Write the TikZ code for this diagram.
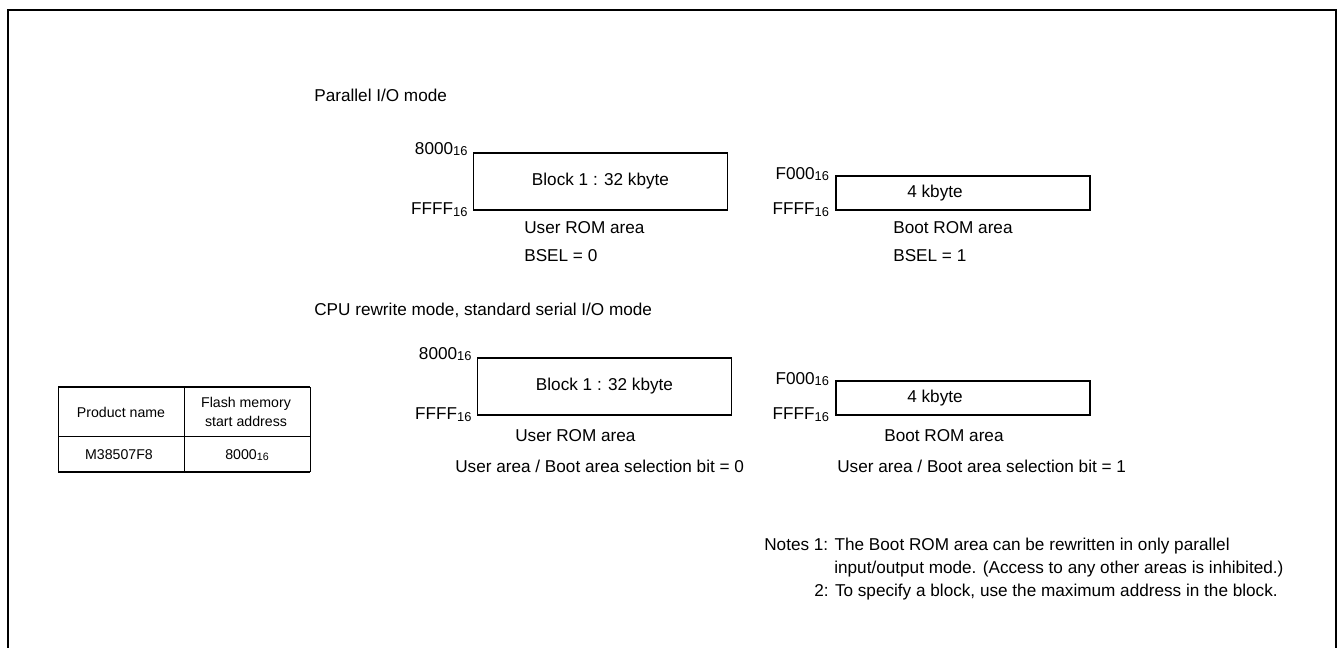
\documentclass[tikz,border=0pt]{standalone}
\usepackage{fontspec}
\setmainfont{Liberation Sans}
\usetikzlibrary{positioning, calc}

\newcommand{\hexaddr}[1]{#1\raisebox{-0.8pt}{\scalebox{0.75}{16}}}

\begin{document}
\begin{tikzpicture}[x=0.6pt, y=-0.6pt]

\tikzset{
txt/.style={
inner sep=0pt,
font=\fontsize{10.3}{12}\selectfont
},
cell/.style={
inner sep=0pt,
align=center,
font=\fontsize{8.5}{11.4}\selectfont
},
mem/.style={
draw,
line width=0.8pt,
inner sep=0pt,
minimum width=152.4pt,
minimum height=#1,
font=\fontsize{10.3}{12}\selectfont
},
addr/.style={
inner sep=0pt,
anchor=east,
font=\fontsize{10.3}{12}\selectfont
}
}

\useasboundingbox (0,0) rectangle (1339,648);
\draw[line width=1.2pt] (8,648) -- (8,10) -- (1336,10) -- (1336,648);

% parallel I/O mode
\node[txt, anchor=west] (par) at (314,95) {Parallel I/O mode};

\node[mem=34.2pt] (user1) at (600.5,181.5) {Block 1 : 32 kbyte};
\node[mem=20.4pt, label={[txt, xshift=-16.8pt]center:4 kbyte}] (boot1) at (963,193) {};

\node[addr] (u1top) at ($(user1.north west)+(-5,-3)$) {\hexaddr{8000}};
\node[addr] (u1bot) at ($(user1.south west)+(-5,-1)$) {\hexaddr{FFFF}};
\node[addr] (b1top) at ($(boot1.north west)+(-6,-1)$) {\hexaddr{F000}};
\node[addr] (b1bot) at ($(boot1.south west)+(-6,-1)$) {\hexaddr{FFFF}};

\node[txt, anchor=west] (ucap1) at (524,228) {User ROM area};
\node[txt, below=16.8pt of ucap1.west, anchor=west] (bsel0) {BSEL = 0};
\node[txt, anchor=west] (bcap1) at (893,228) {Boot ROM area};
\node[txt, below=16.8pt of bcap1.west, anchor=west] (bsel1) {BSEL = 1};

% CPU rewrite / serial I/O mode
\node[txt, anchor=west] (cpu) at (314,310) {CPU rewrite mode, standard serial I/O mode};

\node[mem=34.2pt] (user2) at (604.5,386.5) {Block 1 : 32 kbyte};
\node[mem=20.4pt, label={[txt, xshift=-16.8pt]center:4 kbyte}] (boot2) at (963,398) {};

\node[addr] (u2top) at ($(user2.north west)+(-5,-3)$) {\hexaddr{8000}};
\node[addr] (u2bot) at ($(user2.south west)+(-5,-1)$) {\hexaddr{FFFF}};
\node[addr] (b2top) at ($(boot2.north west)+(-6,-1)$) {\hexaddr{F000}};
\node[addr] (b2bot) at ($(boot2.south west)+(-6,-1)$) {\hexaddr{FFFF}};

\node[txt, anchor=west] (ucap2) at (515,436) {User ROM area};
\node[txt, anchor=west] (usel0) at (455,466) {User area / Boot area selection bit = 0};
\node[txt, anchor=west] (bcap2) at (884,436) {Boot ROM area};
\node[txt, anchor=west] (usel1) at (837,466) {User area / Boot area selection bit = 1};

% product table
\draw[line width=1.1pt] (58,387) -- (310,387) (58,472) -- (310,472);
\draw[line width=0.5pt] (58,387) -- (58,472) (184,387) -- (184,472)
(310,387) -- (310,472) (58,436) -- (310,436);

\node[cell] (pname) at (121,412) {Product name};
\node[cell] (fstart) at (246,412) {Flash memory\\start address};
\node[cell] (prod) at (119,455) {M38507F8};
\node[cell] (fval) at (247,455) {\hexaddr{8000}};

% notes
\node[txt, anchor=west] (note1) at (764,546) {Notes 1: The Boot ROM area can be rewritten in only parallel};
\node[txt, anchor=west] (note1b) at (834,569) {input/output mode. (Access to any other areas is inhibited.)};
\node[txt, anchor=west] (note2) at (814,592) {2: To specify a block, use the maximum address in the block.};

\end{tikzpicture}
\end{document}
